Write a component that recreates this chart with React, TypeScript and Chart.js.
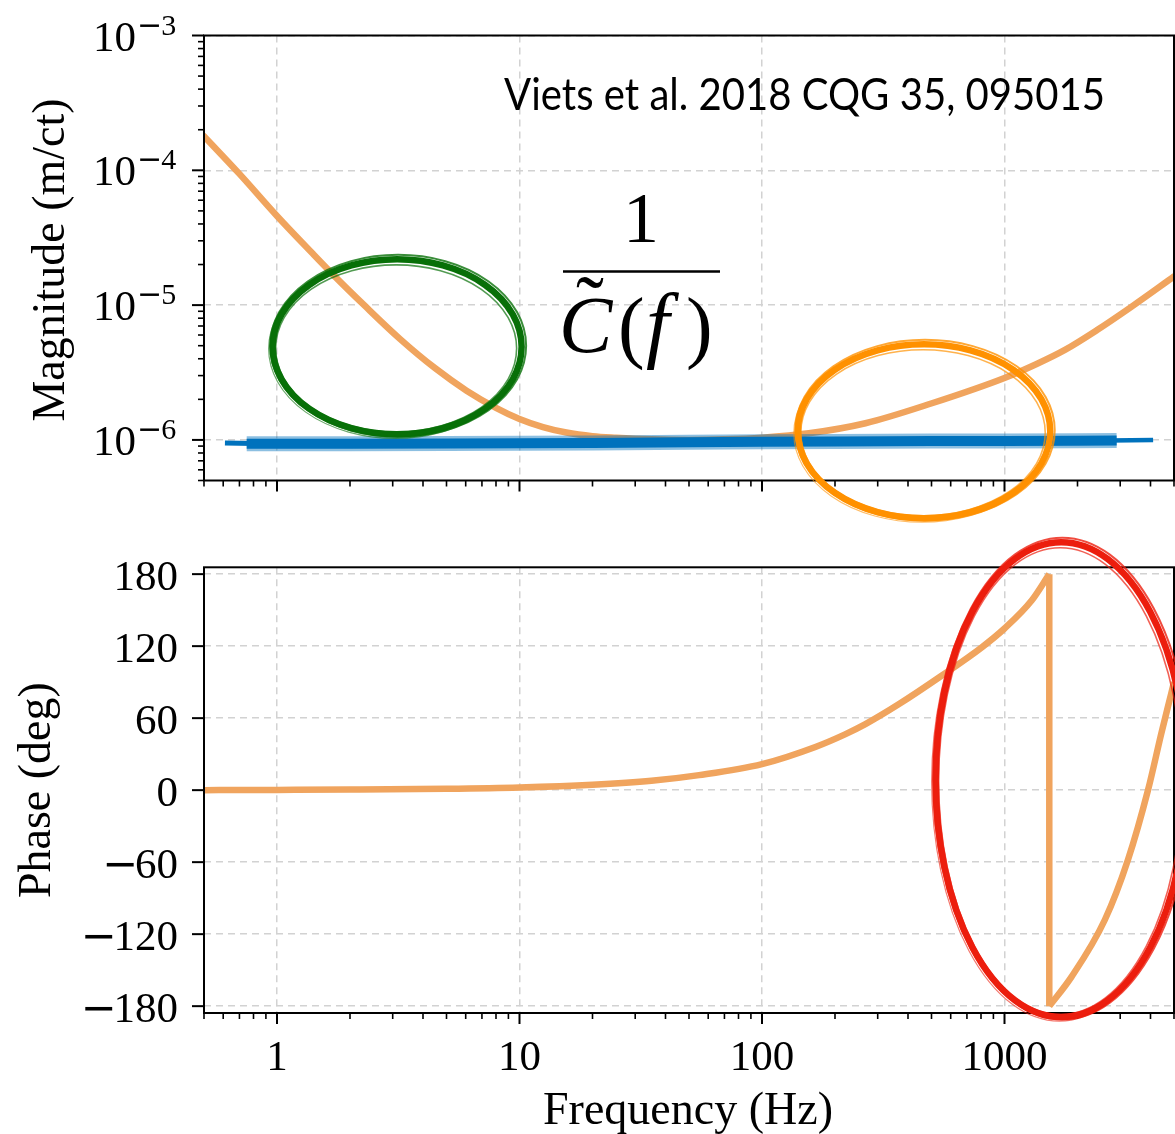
import React, { useEffect, useRef } from 'react';
import { Chart, registerables } from 'chart.js';

Chart.register(...registerables);

// ---------------- data ----------------
const magFreq = [0.5, 0.7, 1, 1.4, 1.71, 2.3, 3.22, 4.5, 6.05, 8, 10, 12.5, 15.6, 20, 25, 35, 50, 70, 100, 156, 267, 502, 1000, 1350, 1775, 2400, 3335, 5000];
const magValues = [1.79e-4, 9.4e-5, 4.58e-5, 2.42e-5, 1.67e-5, 9.9e-6, 5.6e-6, 3.39e-6, 2.32e-6, 1.73e-6, 1.43e-6, 1.245e-6, 1.134e-6, 1.066e-6, 1.038e-6, 1.01e-6, 1.0e-6, 1.01e-6, 1.04e-6, 1.12e-6, 1.33e-6, 1.87e-6, 2.88e-6, 3.64e-6, 4.65e-6, 6.5e-6, 9.7e-6, 1.63e-5];

const bandFreq = [0.75, 1, 2, 5, 10, 20, 50, 100, 200, 500, 1000, 2000, 2900];
const bandValues = [0.935e-6, 0.935e-6, 0.935e-6, 0.94e-6, 0.945e-6, 0.95e-6, 0.96e-6, 0.97e-6, 0.975e-6, 0.98e-6, 0.98e-6, 0.985e-6, 0.99e-6];
const bandTailLeftFreq = [0.61, 0.8];
const bandTailLeftValues = [0.95e-6, 0.94e-6];
const bandTailRightFreq = [2700, 4100];
const bandTailRightValues = [0.99e-6, 1.0e-6];

const phaseRiseFreq = [0.5, 1, 2, 5, 10, 20, 35, 55, 100, 166, 220, 267, 366, 552, 806, 1000, 1294, 1530];
const phaseRiseValues = [0, 0.2, 0.45, 1.1, 2.2, 4.5, 7.8, 12.5, 21.7, 36, 46.5, 55, 71.5, 95.5, 119, 134.7, 158, 180];
const phaseWrapFreq = [1530, 1530];
const phaseWrapValues = [180, -180];
const phaseTailFreq = [1530, 1889, 2594, 3230, 3906, 4430, 4870, 5000];
const phaseTailValues = [-180, -155.6, -108, -58, 0, 47, 80.6, 90];

const freqTicks = [1, 10, 100, 1000];
const freqTickLabels = ['1', '10', '100', '1000'];
const magTicks = [1e-6, 1e-5, 1e-4, 1e-3];
const magTickExponents = ['\u22126', '\u22125', '\u22124', '\u22123'];
const phaseTicks = [-180, -120, -60, 0, 60, 120, 180];
const phaseTickLabels = ['\u2212180', '\u2212120', '\u221260', '0', '60', '120', '180'];

const xTitle = 'Frequency (Hz)';
const magTitle = 'Magnitude (m/ct)';
const phaseTitle = 'Phase (deg)';
const citation = 'Viets et al. 2018 CQG 35, 095015';

// annotation rings, given as data-space bounding boxes
const greenRing = { fLo: 0.915, fHi: 10.7, vLo: 1.01e-6, vHi: 2.38e-5 };
const orangeRing = { fLo: 134, fHi: 1619, vLo: 2.41e-7, vHi: 5.58e-6 };
const redRing = { fLo: 496, fHi: 5930, vLo: -193.3, vHi: 210.8 };

// ---------------- layout / style ----------------
const W = 1175;
const H = 1134;
const TOP_H = 531;
const BOT_H = H - TOP_H;
const FREQ_MIN = 0.5;
const FREQ_MAX = 5000;
const MAG_MIN = 5e-7;
const MAG_MAX = 1e-3;
const PHASE_MIN = -185.7;
const PHASE_MAX = 185.7;

const SERIF = '"Liberation Serif", "Times New Roman", serif';
const MINUS_FONT = '"DejaVu Sans", sans-serif';
const TICK_PX = 43;
const TITLE_PX = 46;
const CURVE = 'rgb(240,164,94)';
const CURVE_W = 6.5;
const BLUE = 'rgb(0,114,189)';
const BLUE_SOFT = 'rgba(0,114,189,0.45)';
const GRID = '#d2d2d2';

const pts = (xs: number[], ys: number[]) => xs.map((x, i) => ({ x, y: ys[i] }));

function logTickValues(min: number, max: number) {
  const out: { v: number; major: boolean }[] = [];
  for (let e = Math.floor(Math.log10(min)); e <= Math.ceil(Math.log10(max)); e++) {
    for (let k = 1; k <= 9; k++) {
      const v = k * Math.pow(10, e);
      if (v >= min * 0.999 && v <= max * 1.001) out.push({ v, major: k === 1 });
    }
  }
  return out;
}

function strokeFrame(ctx: CanvasRenderingContext2D, a: any) {
  ctx.save();
  ctx.strokeStyle = '#000';
  ctx.lineWidth = 2;
  ctx.strokeRect(a.left, a.top, a.right - a.left, a.bottom - a.top);
  ctx.restore();
}

function drawXTicks(ctx: CanvasRenderingContext2D, xs: any, bottom: number) {
  ctx.save();
  ctx.strokeStyle = '#000';
  for (const t of logTickValues(FREQ_MIN, FREQ_MAX)) {
    const x = xs.getPixelForValue(t.v);
    if (x > xs.right + 1 || x < xs.left - 1) continue;
    ctx.lineWidth = t.major ? 2 : 1.6;
    ctx.beginPath();
    ctx.moveTo(x, bottom);
    ctx.lineTo(x, bottom + (t.major ? 11 : 6));
    ctx.stroke();
  }
  ctx.restore();
}

function drawYTicks(ctx: CanvasRenderingContext2D, ys: any, left: number, values: { v: number; major: boolean }[]) {
  ctx.save();
  ctx.strokeStyle = '#000';
  for (const t of values) {
    const y = ys.getPixelForValue(t.v);
    if (y < ys.top - 1 || y > ys.bottom + 1) continue;
    ctx.lineWidth = t.major ? 2 : 1.6;
    ctx.beginPath();
    ctx.moveTo(left, y);
    ctx.lineTo(left - (t.major ? 12 : 6), y);
    ctx.stroke();
  }
  ctx.restore();
}

const RING_PASSES = [
  { inset: 5, width: 6.5, dx: 0, dy: 0, alpha: 1 },
  { inset: 1.5, width: 2, dx: 1, dy: -1, alpha: 0.8 },
  { inset: 9, width: 1.6, dx: -1, dy: 1.5, alpha: 0.7 },
  { inset: 3, width: 1.2, dx: -2, dy: 2, alpha: 0.6 },
];

function drawRing(ctx: CanvasRenderingContext2D, xs: any, ys: any, ring: any, color: string) {
  const x1 = xs.getPixelForValue(ring.fLo);
  const x2 = xs.getPixelForValue(ring.fHi);
  const yA = ys.getPixelForValue(ring.vHi);
  const yB = ys.getPixelForValue(ring.vLo);
  const cx = (x1 + x2) / 2;
  const cy = (yA + yB) / 2;
  const rx = Math.abs(x2 - x1) / 2;
  const ry = Math.abs(yB - yA) / 2;
  ctx.save();
  ctx.strokeStyle = color;
  for (const p of RING_PASSES) {
    ctx.globalAlpha = p.alpha;
    ctx.lineWidth = p.width;
    ctx.beginPath();
    ctx.ellipse(cx + p.dx, cy + p.dy, rx - p.inset, ry - p.inset, 0, 0, Math.PI * 2);
    ctx.stroke();
  }
  ctx.restore();
}

function drawSignedRight(ctx: CanvasRenderingContext2D, label: string, right: number, baseline: number, px: number) {
  const neg = label.startsWith('\u2212');
  const digits = neg ? label.slice(1) : label;
  ctx.font = `${px}px ${SERIF}`;
  const dw = ctx.measureText(digits).width;
  ctx.textAlign = 'left';
  ctx.fillText(digits, right - dw, baseline);
  if (neg) {
    ctx.font = `${px}px ${MINUS_FONT}`;
    const mw = ctx.measureText('\u2212').width;
    ctx.fillText('\u2212', right - dw - mw + 3, baseline);
  }
}

const topPlugin = {
  id: 'magDecor',
  afterDraw(chart: any) {
    const { ctx, chartArea: a, scales } = chart;
    const xs = scales.x;
    const ys = scales.y;
    drawXTicks(ctx, xs, a.bottom);
    drawYTicks(ctx, ys, a.left, logTickValues(MAG_MIN, MAG_MAX));
    strokeFrame(ctx, a);

    ctx.save();
    ctx.fillStyle = '#000';
    magTicks.forEach((v, i) => {
      const py = ys.getPixelForValue(v);
      ctx.font = `${TICK_PX}px ${SERIF}`;
      ctx.textAlign = 'right';
      ctx.textBaseline = 'alphabetic';
      ctx.fillText('10', 136, py + 15);
      ctx.textAlign = 'left';
      const exp = magTickExponents[i];
      ctx.font = `30px ${MINUS_FONT}`;
      ctx.fillText('\u2212', 137, py - 1);
      const mw = ctx.measureText('\u2212').width;
      ctx.font = `30px ${SERIF}`;
      ctx.fillText(exp.slice(1), 137 + mw - 1, py - 1);
    });
    ctx.save();
    ctx.translate(52, 260);
    ctx.rotate(-Math.PI / 2);
    ctx.font = `${TITLE_PX}px ${SERIF}`;
    ctx.textAlign = 'center';
    ctx.textBaseline = 'middle';
    ctx.fillText(magTitle, 0, 0);
    ctx.restore();

    ctx.save();
    ctx.font = '44px Lato, "Open Sans", sans-serif';
    ctx.textAlign = 'left';
    ctx.textBaseline = 'alphabetic';
    const cw = ctx.measureText(citation).width;
    ctx.translate(504, 110);
    ctx.scale(601 / cw, 1);
    ctx.fillText(citation, 0, 0);
    ctx.restore();

    ctx.font = `72px ${SERIF}`;
    ctx.textAlign = 'center';
    ctx.fillText('1', 641, 242);
    ctx.lineWidth = 2.5;
    ctx.strokeStyle = '#000';
    ctx.beginPath();
    ctx.moveTo(563, 271.5);
    ctx.lineTo(720, 271.5);
    ctx.stroke();
    ctx.textAlign = 'left';
    ctx.font = `italic 80px ${SERIF}`;
    ctx.fillText('C', 559, 352);
    ctx.font = `italic 84px ${SERIF}`;
    ctx.fillText('f', 646, 352);
    ctx.font = `84px ${SERIF}`;
    ctx.fillText('\u02DC', 576, 334);
    ctx.font = `80px ${SERIF}`;
    ctx.fillText('(', 618, 353);
    ctx.fillText(')', 686, 353);
    ctx.restore();

    drawRing(ctx, xs, ys, greenRing, 'rgb(8,112,8)');
    drawRing(ctx, xs, ys, orangeRing, 'rgb(255,145,0)');
  },
};

const bottomPlugin = {
  id: 'phaseDecor',
  afterDraw(chart: any) {
    const { ctx, chartArea: a, scales } = chart;
    const xs = scales.x;
    const ys = scales.y;
    drawXTicks(ctx, xs, a.bottom);
    drawYTicks(ctx, ys, a.left, phaseTicks.map((v) => ({ v, major: true })));
    strokeFrame(ctx, a);

    ctx.save();
    ctx.fillStyle = '#000';
    ctx.textBaseline = 'alphabetic';
    phaseTicks.forEach((v, i) => {
      const py = ys.getPixelForValue(v);
      drawSignedRight(ctx, phaseTickLabels[i], 178, py + 16, TICK_PX);
    });
    ctx.font = `${TICK_PX}px ${SERIF}`;
    ctx.textAlign = 'center';
    freqTicks.forEach((v, i) => {
      const px = xs.getPixelForValue(v);
      ctx.fillText(freqTickLabels[i], px, a.bottom + 57);
    });
    ctx.font = `${TITLE_PX}px ${SERIF}`;
    ctx.fillText(xTitle, 688, a.bottom + 111);
    ctx.save();
    ctx.translate(38, ys.getPixelForValue(0));
    ctx.rotate(-Math.PI / 2);
    ctx.textBaseline = 'middle';
    ctx.fillText(phaseTitle, 0, 0);
    ctx.restore();
    ctx.restore();

    drawRing(ctx, xs, ys, redRing, 'rgb(236,30,14)');
  },
};

function xScale(height: number) {
  return {
    type: 'logarithmic',
    min: FREQ_MIN,
    max: FREQ_MAX,
    afterBuildTicks: (s: any) => {
      s.ticks = freqTicks.map((value) => ({ value }));
    },
    afterFit: (s: any) => {
      s.height = height;
    },
    ticks: { display: false },
    grid: { color: GRID, lineWidth: 1.5, drawTicks: false },
    border: { display: false, dash: [7, 5] },
  };
}

function lineDs(data: any[], color: string, width: number, extra: any = {}) {
  return {
    data,
    borderColor: color,
    backgroundColor: color,
    borderWidth: width,
    pointRadius: 0,
    fill: false,
    borderCapStyle: 'butt',
    ...extra,
  };
}

function topConfig(): any {
  return {
    type: 'line',
    data: {
      datasets: [
        lineDs(pts(bandTailLeftFreq, bandTailLeftValues), BLUE, 5),
        lineDs(pts(bandFreq, bandValues), BLUE, 10),
        lineDs(pts(bandFreq, bandValues), BLUE_SOFT, 15),
        lineDs(pts(bandTailRightFreq, bandTailRightValues), BLUE, 4.5),
        lineDs(pts(magFreq, magValues), CURVE, CURVE_W, { cubicInterpolationMode: 'monotone', borderCapStyle: 'round' }),
      ],
    },
    options: {
      responsive: false,
      animation: false,
      devicePixelRatio: 1,
      events: [],
      layout: { padding: { left: 0, right: 1, top: 35.5, bottom: 0 } },
      plugins: { legend: { display: false }, tooltip: { enabled: false } },
      scales: {
        x: xScale(TOP_H - 480.5),
        y: {
          type: 'logarithmic',
          min: MAG_MIN,
          max: MAG_MAX,
          afterBuildTicks: (s: any) => {
            s.ticks = magTicks.map((value) => ({ value }));
          },
          afterFit: (s: any) => {
            s.width = 204;
          },
          ticks: { display: false },
          grid: { color: GRID, lineWidth: 1.5, drawTicks: false },
          border: { display: false, dash: [7, 5] },
        },
      },
    },
    plugins: [topPlugin],
  };
}

function bottomConfig(): any {
  return {
    type: 'line',
    data: {
      datasets: [
        lineDs(pts(phaseRiseFreq, phaseRiseValues), CURVE, CURVE_W, { cubicInterpolationMode: 'monotone' }),
        lineDs(pts(phaseWrapFreq, phaseWrapValues), CURVE, CURVE_W),
        lineDs(pts(phaseTailFreq, phaseTailValues), CURVE, CURVE_W, { cubicInterpolationMode: 'monotone' }),
      ],
    },
    options: {
      responsive: false,
      animation: false,
      devicePixelRatio: 1,
      events: [],
      layout: { padding: { left: 0, right: 1, top: 567.3 - TOP_H, bottom: 0 } },
      plugins: { legend: { display: false }, tooltip: { enabled: false } },
      scales: {
        x: xScale(BOT_H - (1013 - TOP_H)),
        y: {
          type: 'linear',
          min: PHASE_MIN,
          max: PHASE_MAX,
          afterBuildTicks: (s: any) => {
            s.ticks = phaseTicks.map((value) => ({ value }));
          },
          afterFit: (s: any) => {
            s.width = 204;
          },
          ticks: { display: false },
          grid: { color: GRID, lineWidth: 1.5, drawTicks: false },
          border: { display: false, dash: [7, 5] },
        },
      },
    },
    plugins: [bottomPlugin],
  };
}

export default function App() {
  const topRef = useRef<HTMLCanvasElement>(null);
  const botRef = useRef<HTMLCanvasElement>(null);
  useEffect(() => {
    const top = new Chart(topRef.current as HTMLCanvasElement, topConfig());
    const bot = new Chart(botRef.current as HTMLCanvasElement, bottomConfig());
    return () => {
      top.destroy();
      bot.destroy();
    };
  }, []);
  return (
    <div style={{ position: 'absolute', left: 0, top: 0, width: W, height: H, background: '#fff', overflow: 'hidden' }}>
      <canvas ref={topRef} width={W} height={TOP_H} style={{ position: 'absolute', left: 0, top: 0, width: W, height: TOP_H, display: 'block' }} />
      <canvas ref={botRef} width={W} height={BOT_H} style={{ position: 'absolute', left: 0, top: TOP_H, width: W, height: BOT_H, display: 'block' }} />
    </div>
  );
}
